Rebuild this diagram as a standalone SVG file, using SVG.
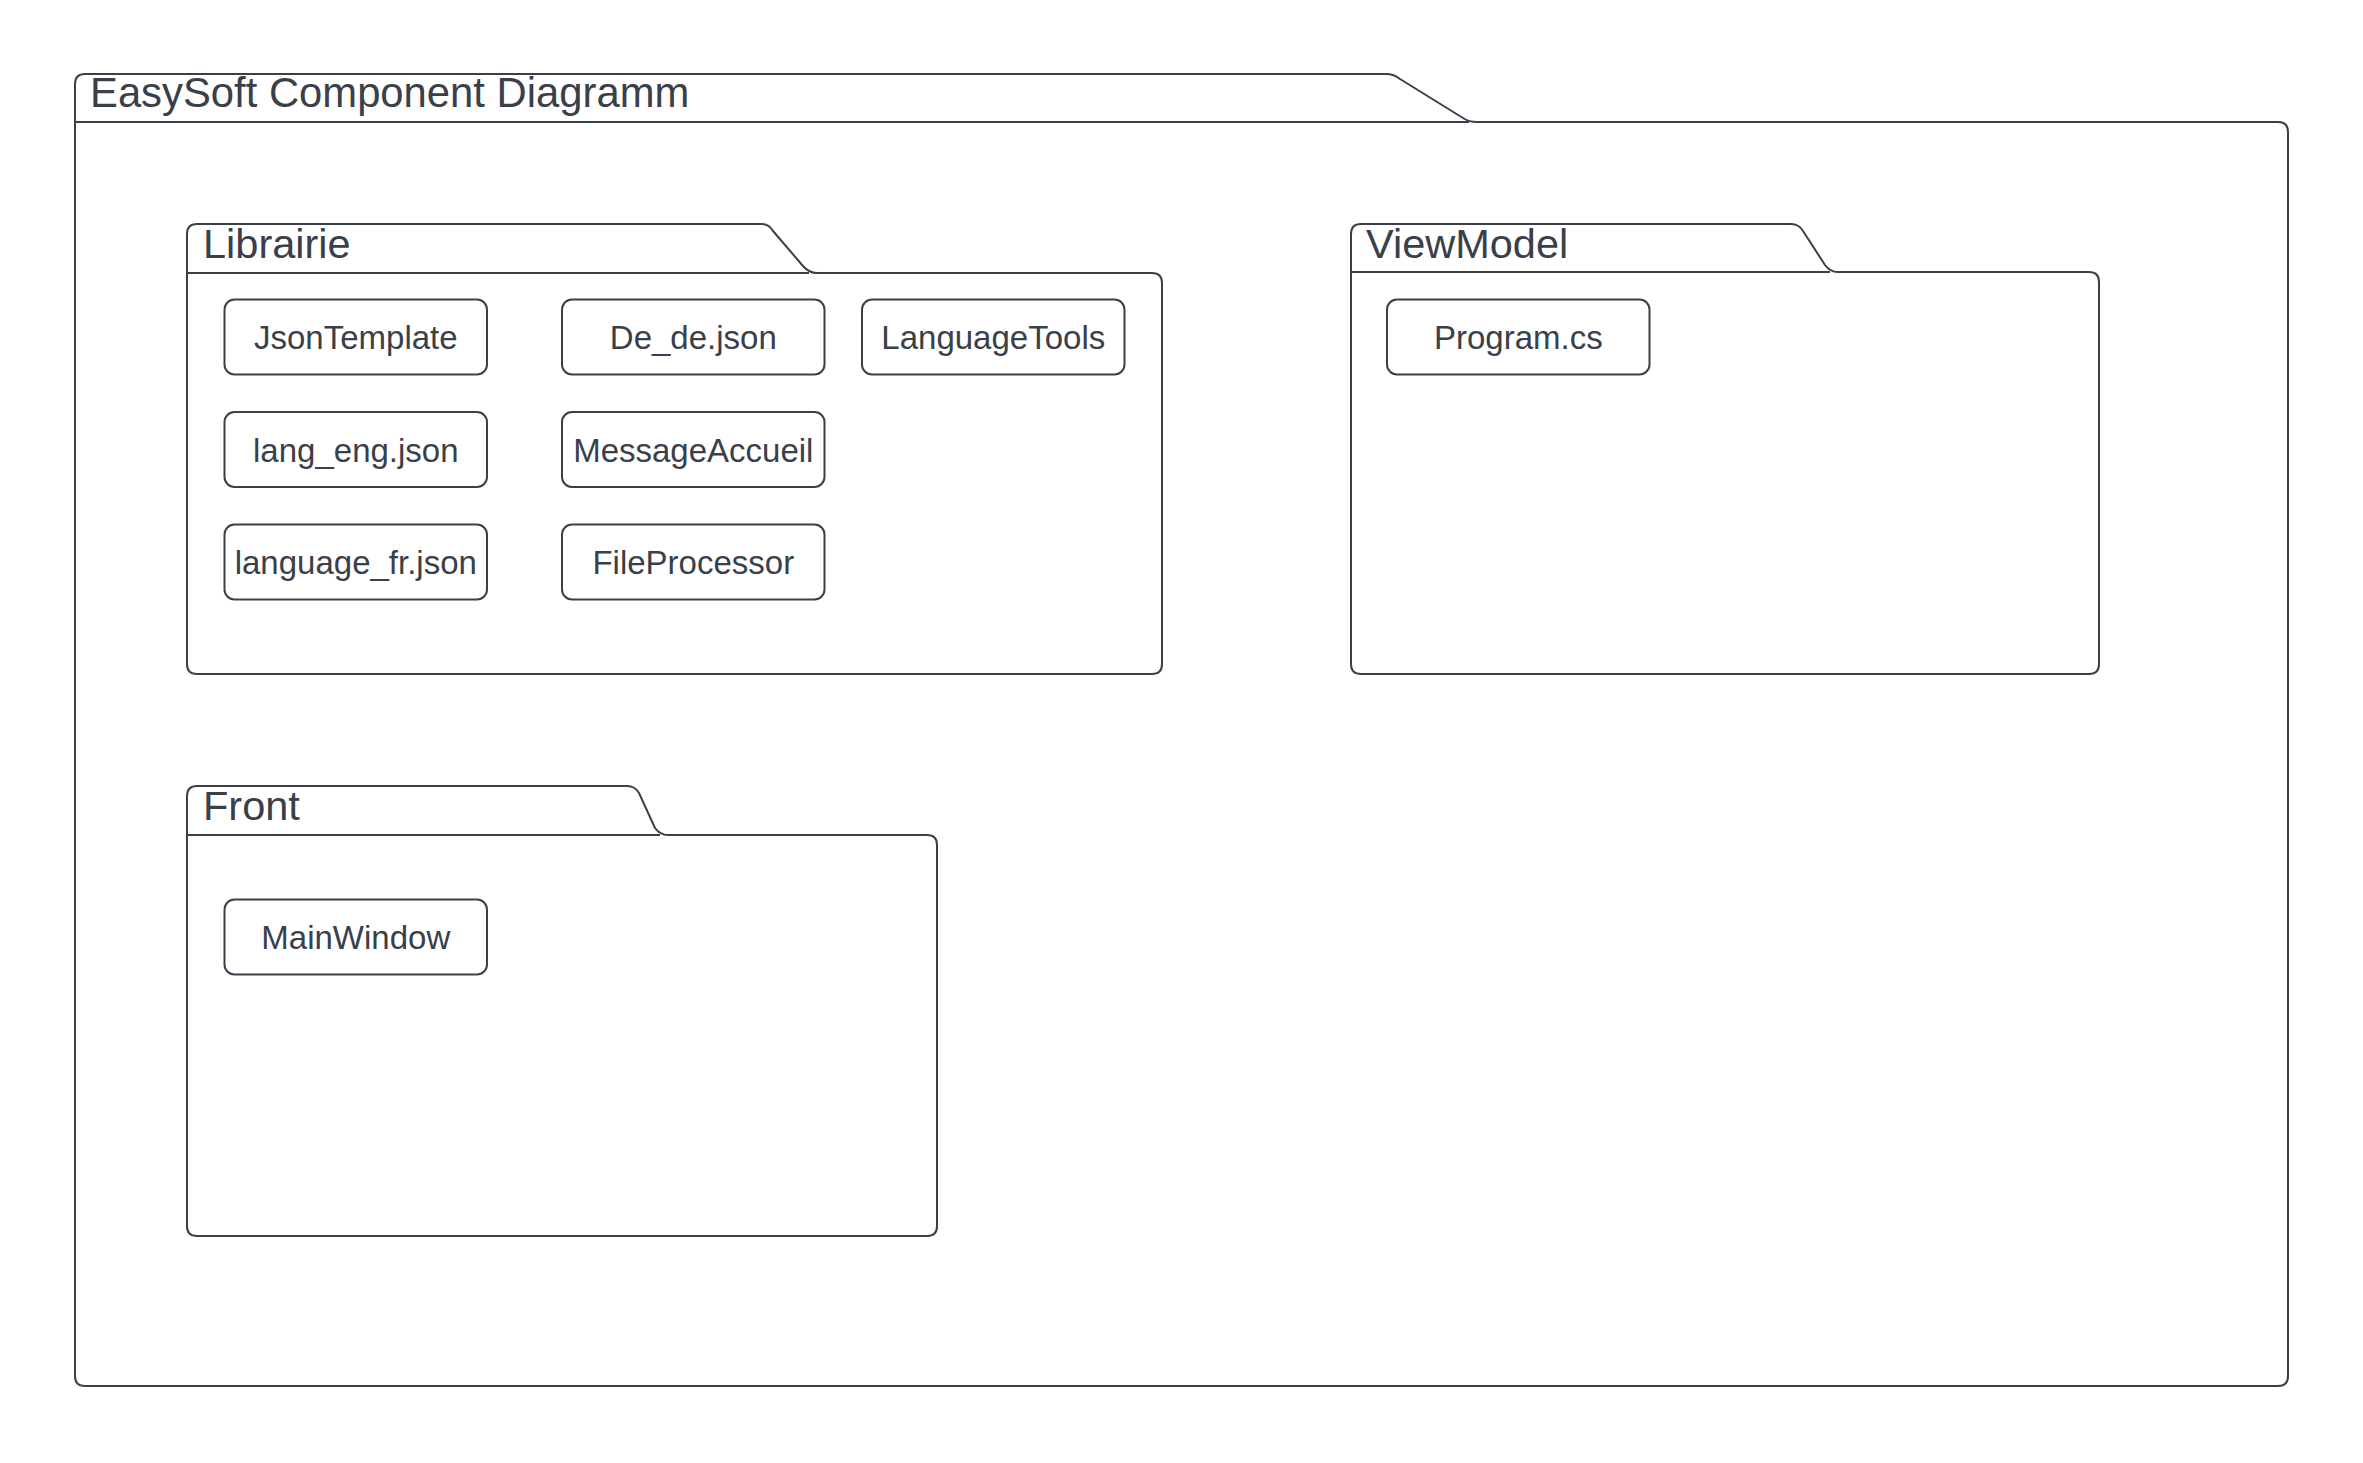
<svg xmlns="http://www.w3.org/2000/svg" width="2363" height="1463" viewBox="0 0 2363 1463">
<style>
.pkg{fill:none;stroke:#3a4049;stroke-width:2;stroke-linejoin:round}
.box{fill:#ffffff;stroke:#3a4049;stroke-width:2}
.lbl{font-family:"Liberation Sans",Arial,sans-serif;font-size:41.5px;fill:#3a4049}
.txt{font-family:"Liberation Sans",Arial,sans-serif;font-size:33px;fill:#3a4049;text-anchor:middle}
</style>
<rect width="2363" height="1463" fill="#ffffff"/>
<g id="pkg-easysoft">
<path class="pkg" d="M75,122 V84 Q75,74 85,74 H1386 Q1394,74 1400,79 L1463,118 Q1469,122 1477,122 H2278 Q2288,122 2288,132 V1376 Q2288,1386 2278,1386 H85 Q75,1386 75,1376 Z M75,122 H1469"/>
<text class="lbl" x="90" y="107" style="font-size:41.8px">EasySoft Component Diagramm</text>
</g>
<g id="pkg-librairie">
<path class="pkg" d="M187,273 V234 Q187,224 197,224 H761 Q769,224 773,231 L803,266 Q809,273 817,273 H1152 Q1162,273 1162,283 V664 Q1162,674 1152,674 H197 Q187,674 187,664 Z M187,273 H809"/>
<text class="lbl" x="203" y="258">Librairie</text>
</g>
<g id="pkg-viewmodel">
<path class="pkg" d="M1351,272 V234 Q1351,224 1361,224 H1791 Q1799,224 1803,231 L1825,265 Q1830,272 1838,272 H2089 Q2099,272 2099,282 V664 Q2099,674 2089,674 H1361 Q1351,674 1351,664 Z M1351,272 H1830"/>
<text class="lbl" x="1366" y="258">ViewModel</text>
</g>
<g id="pkg-front">
<path class="pkg" d="M187,835 V796 Q187,786 197,786 H627 Q635,786 639,793 L655,828 Q660,835 668,835 H927 Q937,835 937,845 V1226 Q937,1236 927,1236 H197 Q187,1236 187,1226 Z M187,835 H660"/>
<text class="lbl" x="203" y="820">Front</text>
</g>
<g id="node-jsontemplate"><rect class="box" x="224.5" y="299.5" width="262.5" height="75" rx="10"/><text class="txt" x="355.8" y="349">JsonTemplate</text></g>
<g id="node-dede"><rect class="box" x="562" y="299.5" width="262.5" height="75" rx="10"/><text class="txt" x="693.3" y="349">De_de.json</text></g>
<g id="node-languagetools"><rect class="box" x="862" y="299.5" width="262.5" height="75" rx="10"/><text class="txt" x="993.3" y="349">LanguageTools</text></g>
<g id="node-langeng"><rect class="box" x="224.5" y="412" width="262.5" height="75" rx="10"/><text class="txt" x="355.8" y="461.5">lang_eng.json</text></g>
<g id="node-messageaccueil"><rect class="box" x="562" y="412" width="262.5" height="75" rx="10"/><text class="txt" x="693.3" y="461.5">MessageAccueil</text></g>
<g id="node-languagefr"><rect class="box" x="224.5" y="524.5" width="262.5" height="75" rx="10"/><text class="txt" x="355.8" y="574">language_fr.json</text></g>
<g id="node-fileprocessor"><rect class="box" x="562" y="524.5" width="262.5" height="75" rx="10"/><text class="txt" x="693.3" y="574">FileProcessor</text></g>
<g id="node-program"><rect class="box" x="1387" y="299.5" width="262.5" height="75" rx="10"/><text class="txt" x="1518.3" y="349">Program.cs</text></g>
<g id="node-mainwindow"><rect class="box" x="224.5" y="899.5" width="262.5" height="75" rx="10"/><text class="txt" x="355.8" y="949">MainWindow</text></g>
<g id="connectors"></g>
</svg>
